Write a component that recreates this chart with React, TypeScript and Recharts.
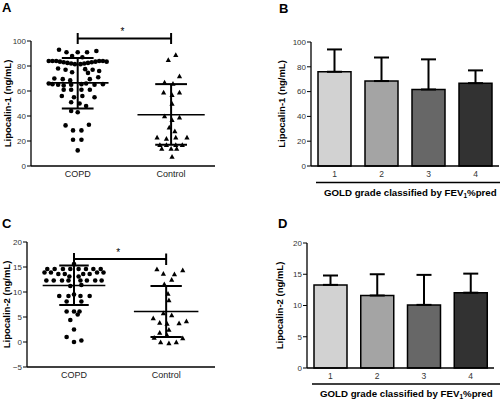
import React from 'react';
import {
  ScatterChart,
  Scatter,
  BarChart,
  Bar,
  Cell,
  ErrorBar,
  XAxis,
  YAxis,
  ReferenceLine,
  ReferenceDot
} from 'recharts';

const groups = ['COPD', 'Control'];
const grades = ['1', '2', '3', '4'];
const gradeFills = ['#d2d2d2', '#a4a4a4', '#676767', '#323232'];

// A: lipocalin-1 (ng/mL) per subject, jitter = horizontal offset as drawn
const copdLcn1 = [
  93, 91, 91, 91, 92, 88, 87,
  84, 84, 84, 83.5, 83, 82.5, 82, 81.5, 81.5, 82, 82.5, 83, 83.5, 84, 84, 83.5,
  78, 77, 77.5, 77, 76, 75, 74.5,
  70, 69.5, 68.5, 69.5, 71,
  66, 65.5, 65, 64.5, 65, 65.5, 66, 65, 65.5,
  61, 61, 61, 61, 56, 55, 56, 55, 51, 50, 48, 44, 43,
  32.5, 33, 28.5, 28.5, 21, 21, 12.5
];
const copdLcn1Jitter = [
  -0.2, -0.12, 0, 0.1, 0.2, -0.06, 0.05,
  -0.31, -0.27, -0.23, -0.19, -0.15, -0.11, -0.07, -0.03, 0.03, 0.07, 0.11, 0.15, 0.19, 0.23, 0.27, 0.31,
  -0.21, -0.13, 0.08, 0.16, 0.23, -0.06, 0.11,
  -0.25, -0.16, -0.08, 0.13, 0.22,
  -0.31, -0.27, -0.21, -0.15, -0.07, 0.04, 0.09, 0.18, 0.27,
  -0.15, -0.07, 0.04, 0.13, -0.17, -0.04, 0.05, 0.18, -0.07, 0.02, 0.09, -0.07, 0,
  -0.13, 0.12, -0.05, 0.04, -0.05, 0.04, 0
];
const controlLcn1 = [
  85, 89, 72, 67, 66, 59, 57, 59, 50, 40, 37, 39, 31, 28,
  23, 22, 23, 23, 17, 17, 17, 17, 14, 14, 14, 7.5
];
const controlLcn1Jitter = [
  -0.03, 0.05, 0.09, -0.07, 0.02, -0.08, 0.01, 0.09, 0.01, -0.07, 0.01, 0.09, -0.02, 0.04,
  -0.15, -0.05, 0.05, 0.17, -0.12, -0.05, 0.05, 0.12, -0.1, 0, 0.06, 0.01
];
// mean, mean - SD, mean + SD
const copdLcn1Stats = [66.5, 46, 86.5];
const controlLcn1Stats = [41, 17, 65.5];

// C: lipocalin-2 (ng/mL)
const copdLcn2 = [
  15.6,
  14.6, 14.6, 14.6, 14.6, 14.6, 14.6, 14.6, 14.6,
  13.9, 13.9, 13.9, 13.9, 13.6, 13.6, 13.6, 13.6, 13.1, 13.1,
  12.3, 12.3, 12.3, 12.3, 12.3, 12.3, 12.3, 12.3,
  11.4, 11.2,
  9.2, 9.2, 9.2, 9.2, 9.5, 8.1, 8.1,
  6.1, 6.1, 6.1, 5.5, 4.4, 2.5, 1.0, 0.0, 0.3
];
const copdLcn2Jitter = [
  0,
  -0.29, -0.21, -0.12, -0.04, 0.05, 0.13, 0.21, 0.29,
  -0.32, -0.25, 0.25, 0.32, -0.17, -0.1, 0.1, 0.17, -0.05, 0.05,
  -0.3, -0.22, -0.13, -0.06, 0.07, 0.14, 0.23, 0.3,
  0.08, -0.04,
  -0.16, -0.06, 0.07, 0.17, 0, -0.08, 0.08,
  -0.08, 0, 0.06, 0.04, -0.04, 0, -0.08, 0, 0.08
];
const controlLcn2 = [
  14.6, 13.7, 13.6, 14.4, 12.5, 11.6, 9.7, 8.4, 5.8, 5.4, 4.8, 3.9,
  3.7, 3.8, 4.2, 2.5, 1.9, 0.9, 0.8, 1.4, 0.0, -0.2, 0.0
];
const controlLcn2Jitter = [
  -0.1, -0.03, 0.09, 0.18, 0.06, -0.02, 0.02, 0.03, -0.03, 0.06, -0.14, -0.07,
  0.01, 0.14, 0.22, 0.03, -0.07, -0.13, 0.18, 0.01, -0.06, 0.03, 0.11
];
const copdLcn2Stats = [11.3, 7.4, 15.3];
const controlLcn2Stats = [6.1, 1.0, 11.2];

// B / D: mean and SD by GOLD grade
const gradeLcn1Mean = [76, 68.5, 61.7, 66.8];
const gradeLcn1Sd = [18, 19, 24.3, 10.3];
const gradeLcn2Mean = [13.3, 11.6, 10.1, 12.05];
const gradeLcn2Sd = [1.5, 3.4, 4.8, 3.05];

const toPoints = (vals: number[], jit: number[], center: number) =>
  vals.map((v, i) => ({ x: center + jit[i], y: v }));

const Dot = (p: any) => <circle cx={p.cx} cy={p.cy} r={2.3} fill="#000" />;
const Tri = (p: any) => {
  const s = 2.6;
  return (
    <polygon
      points={`${p.cx},${p.cy - s} ${p.cx - s},${p.cy + s * 0.85} ${p.cx + s},${p.cy + s * 0.85}`}
      fill="#000"
    />
  );
};

const seg = (key: string, x1: number, y1: number, x2: number, y2: number, w = 2) => (
  <ReferenceLine
    key={key}
    segment={[{ x: x1, y: y1 }, { x: x2, y: y2 }]}
    stroke="#000"
    strokeWidth={w}
    ifOverflow="visible"
  />
);

// mean line, SD caps and whisker
const statLines = (id: string, c: number, s: number[], meanHalf: number, capHalf: number, top?: number) => [
  seg(id + 'm', c - meanHalf, s[0], c + meanHalf, s[0], 1.6),
  seg(id + 'l', c - capHalf, s[1], c + capHalf, s[1]),
  seg(id + 'u', c - capHalf, s[2], c + capHalf, s[2]),
  seg(id + 'v', c, s[1], c, top ?? s[2])
];

const axisLine = { stroke: '#000', strokeWidth: 1.3 };
const yTick = { fontSize: 8, fill: '#333' };
const yLabel = (text: string, offset: number) => ({
  value: text,
  angle: -90,
  position: 'insideLeft' as const,
  offset,
  style: { textAnchor: 'middle' as const, fontSize: 9.5, fontWeight: 700, fill: '#000' }
});
const minus = (v: number) => (v < 0 ? '\u2212' + Math.abs(v) : String(v));

const Star = ({ x, y }: { x: number; y: number }) => null;

const App: React.FC = () => {
  const gradeB = grades.map((g, i) => ({ grade: g, mean: gradeLcn1Mean[i], err: [0, gradeLcn1Sd[i]] }));
  const gradeD = grades.map((g, i) => ({ grade: g, mean: gradeLcn2Mean[i], err: [0, gradeLcn2Sd[i]] }));

  return (
    <div
      style={{
        position: 'absolute',
        left: 0,
        top: 0,
        width: 500,
        height: 400,
        background: '#fff',
        overflow: 'hidden',
        fontFamily: '"Liberation Sans", Arial, sans-serif'
      }}
    >
      {/* A */}
      <div style={{ position: 'absolute', left: 0, top: 0 }}>
        <ScatterChart width={250} height={200} margin={{ top: 41, right: 35, bottom: 14, left: 0 }}>
          <XAxis
            type="number"
            dataKey="x"
            domain={[0.5, 2.47]}
            allowDataOverflow
            ticks={[1, 2]}
            tickFormatter={(v) => groups[v - 1]}
            height={20}
            tickLine={false}
            tickSize={4}
            tickMargin={1}
            axisLine={axisLine}
            tick={{ fontSize: 9, fill: '#222' }}
          />
          <YAxis
            type="number"
            dataKey="y"
            width={31}
            domain={[0, 100]}
            ticks={[0, 20, 40, 60, 80, 100]}
            tickSize={4}
            tickMargin={1}
            axisLine={axisLine}
            tickLine={{ stroke: '#000' }}
            tick={yTick}
            label={yLabel('Lipocalin-1 (ng/mL)', 8)}
          />
          <Scatter data={toPoints(copdLcn1, copdLcn1Jitter, 1)} shape={Dot} isAnimationActive={false} />
          <Scatter data={toPoints(controlLcn1, controlLcn1Jitter, 2)} shape={Tri} isAnimationActive={false} />
          {statLines('a1', 1, copdLcn1Stats, 0.33, 0.17)}
          {statLines('a2', 2, controlLcn1Stats, 0.36, 0.17)}
          {seg('ab', 1, 102, 2, 102)}
          {seg('abl', 1, 97.6, 1, 106.4)}
          {seg('abr', 2, 97.6, 2, 106.4)}
          <ReferenceDot
            x={1.48}
            y={108}
            r={0}
            fill="none"
            stroke="none"
            ifOverflow="visible"
            label={{ value: '*', position: 'center', fontSize: 10, fill: '#000' }}
          />
        </ScatterChart>
      </div>

      {/* B */}
      <div style={{ position: 'absolute', left: 250, top: 0 }}>
        <BarChart width={250} height={200} data={gradeB} margin={{ top: 42, right: 1, bottom: 14, left: 0 }} barSize={33}>
          <XAxis
            dataKey="grade"
            height={20}
            tickLine={false}
            tickSize={4}
            tickMargin={1}
            axisLine={axisLine}
            tick={{ fontSize: 8.5, fill: '#333' }}
          />
          <YAxis
            width={61}
            domain={[0, 100]}
            ticks={[0, 20, 40, 60, 80, 100]}
            tickSize={4}
            tickMargin={1}
            axisLine={axisLine}
            tickLine={{ stroke: '#000' }}
            tick={yTick}
            label={yLabel('Lipocalin-1 (ng/mL)', 32)}
          />
          <Bar dataKey="mean" stroke="#000" strokeWidth={1.5} isAnimationActive={false}>
            {gradeFills.map((f, i) => (
              <Cell key={i} fill={f} />
            ))}
            <ErrorBar dataKey="err" width={7.5} strokeWidth={2} stroke="#000" direction="y" />
          </Bar>
        </BarChart>
      </div>

      {/* C */}
      <div style={{ position: 'absolute', left: 0, top: 200 }}>
        <ScatterChart width={250} height={200} margin={{ top: 42, right: 35, bottom: 13, left: 0 }}>
          <XAxis
            type="number"
            dataKey="x"
            domain={[0.49, 2.53]}
            allowDataOverflow
            ticks={[1, 2]}
            tickFormatter={(v) => groups[v - 1]}
            height={20}
            tickLine={false}
            tickSize={4}
            tickMargin={1}
            axisLine={axisLine}
            tick={{ fontSize: 9, fill: '#222' }}
          />
          <YAxis
            type="number"
            dataKey="y"
            width={27}
            domain={[-5, 20]}
            ticks={[-5, 0, 5, 10, 15, 20]}
            tickFormatter={minus}
            tickSize={4}
            tickMargin={1}
            axisLine={axisLine}
            tickLine={{ stroke: '#000' }}
            tick={yTick}
            label={yLabel('Lipocalin-2 (ng/mL)', 7)}
          />
          <Scatter data={toPoints(copdLcn2, copdLcn2Jitter, 1)} shape={Dot} isAnimationActive={false} />
          <Scatter data={toPoints(controlLcn2, controlLcn2Jitter, 2)} shape={Tri} isAnimationActive={false} />
          {statLines('c1', 1, copdLcn2Stats, 0.34, 0.16, 17.8)}
          {statLines('c2', 2, controlLcn2Stats, 0.35, 0.17)}
          {seg('cb', 1, 16.6, 2, 16.6)}
          {seg('cbr', 2, 15.4, 2, 17.7)}
          <ReferenceDot
            x={1.48}
            y={18}
            r={0}
            fill="none"
            stroke="none"
            ifOverflow="visible"
            label={{ value: '*', position: 'center', fontSize: 10, fill: '#000' }}
          />
        </ScatterChart>
      </div>

      {/* D */}
      <div style={{ position: 'absolute', left: 250, top: 200 }}>
        <BarChart width={250} height={200} data={gradeD} margin={{ top: 43, right: 6, bottom: 12, left: 0 }} barSize={33}>
          <XAxis
            dataKey="grade"
            height={20}
            tickLine={false}
            tickSize={4}
            tickMargin={1}
            axisLine={axisLine}
            tick={{ fontSize: 8.5, fill: '#333' }}
          />
          <YAxis
            width={57}
            domain={[0, 20]}
            ticks={[0, 5, 10, 15, 20]}
            tickSize={4}
            tickMargin={1}
            axisLine={axisLine}
            tickLine={{ stroke: '#000' }}
            tick={yTick}
            label={yLabel('Lipocalin-2 (ng/mL)', 30)}
          />
          <Bar dataKey="mean" stroke="#000" strokeWidth={1.5} isAnimationActive={false}>
            {gradeFills.map((f, i) => (
              <Cell key={i} fill={f} />
            ))}
            <ErrorBar dataKey="err" width={7.5} strokeWidth={2} stroke="#000" direction="y" />
          </Bar>
        </BarChart>
      </div>

      {/* panel letters and grade titles */}
      <svg width={500} height={400} style={{ position: 'absolute', left: 0, top: 0, pointerEvents: 'none' }}>
        <g fontWeight={700} fontSize={13} fill="#000">
          <text x={2} y={12}>A</text>
          <text x={279} y={13}>B</text>
          <text x={2} y={228}>C</text>
          <text x={278} y={228}>D</text>
        </g>
        <line x1={316} y1={182.5} x2={500} y2={182.5} stroke="#000" strokeWidth={1.5} />
        <line x1={312} y1={384} x2={500} y2={384} stroke="#000" strokeWidth={1.5} />
        <g fontWeight={700} fontSize={9.7} fill="#000">
          <text x={324} y={195.5}>
            GOLD grade classified by FEV<tspan fontSize={6.5} dy={2}>1</tspan>
            <tspan dy={-2}>%pred</tspan>
          </text>
          <text x={320} y={396.5}>
            GOLD grade classified by FEV<tspan fontSize={6.5} dy={2}>1</tspan>
            <tspan dy={-2}>%pred</tspan>
          </text>
        </g>
      </svg>
    </div>
  );
};

export default App;
